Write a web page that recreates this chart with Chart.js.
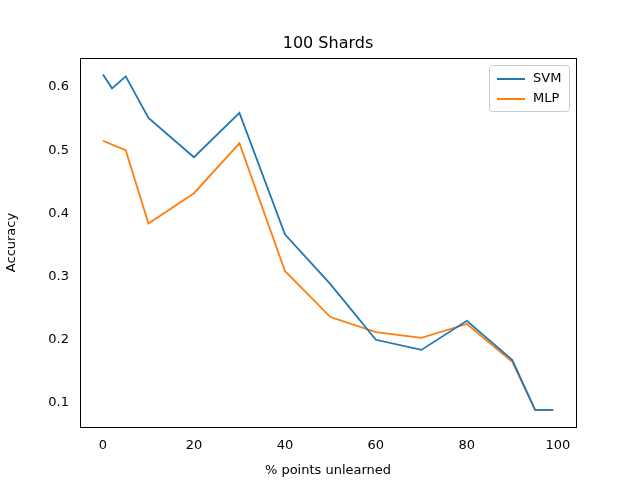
<!DOCTYPE html>
<html><head><script src="https://cdn.jsdelivr.net/npm/chart.js@4"></script>
<style>body{margin:0;background:#fff}#c{display:block}</style></head>
<body><canvas id="c" width="640" height="480"></canvas>
<script>
const xs = [0, 2, 5, 10, 20, 30, 40, 50, 60, 70, 80, 90, 95, 99];
const svm = [0.620, 0.598, 0.617, 0.551, 0.489, 0.559, 0.367, 0.288, 0.200, 0.184, 0.230, 0.168, 0.089, 0.089];
const mlp = [0.515, 0.509, 0.500, 0.384, 0.432, 0.511, 0.309, 0.236, 0.212, 0.203, 0.225, 0.165, 0.089, 0.089];
const xTicks = [0, 20, 40, 60, 80, 100];
const yTicks = [0.1, 0.2, 0.3, 0.4, 0.5, 0.6];
const font = { family: 'DejaVu Sans', size: 13 };

const overlay = {
  id: 'overlay',
  afterDraw(chart) {
    const ctx = chart.ctx, a = chart.chartArea;
    ctx.save();
    ctx.strokeStyle = '#000'; ctx.lineWidth = 1;
    ctx.strokeRect(a.left + 0.5, a.top + 0.5, a.right - a.left, a.bottom - a.top);
    ctx.fillStyle = '#000'; ctx.font = '16px DejaVu Sans';
    ctx.textAlign = 'center'; ctx.textBaseline = 'bottom';
    ctx.fillText('100 Shards', (a.left + a.right) / 2, a.top - 6);
    // legend
    const bx = a.right - 87, by = a.top + 7;
    ctx.fillStyle = 'rgba(255,255,255,0.8)'; ctx.strokeStyle = '#ccc';
    ctx.beginPath(); ctx.roundRect(bx + 0.5, by + 0.5, 80, 46, 3); ctx.fill(); ctx.stroke();
    ctx.font = '13px DejaVu Sans'; ctx.textAlign = 'left'; ctx.textBaseline = 'middle';
    chart.data.datasets.forEach((d, i) => {
      const y = by + 14 + i * 20;
      ctx.strokeStyle = d.borderColor; ctx.lineWidth = 2;
      ctx.beginPath(); ctx.moveTo(bx + 8, y); ctx.lineTo(bx + 36, y); ctx.stroke();
      ctx.fillStyle = '#000'; ctx.fillText(d.label, bx + 44, y);
    });
    ctx.restore();
  }
};

new Chart(document.getElementById('c').getContext('2d'), {
  type: 'line',
  data: { datasets: [
    { label: 'SVM', data: xs.map((x, i) => ({ x, y: svm[i] })), borderColor: '#1f77b4', borderWidth: 1.8, pointRadius: 0, tension: 0 },
    { label: 'MLP', data: xs.map((x, i) => ({ x, y: mlp[i] })), borderColor: '#ff7f0e', borderWidth: 1.8, pointRadius: 0, tension: 0 }
  ] },
  options: {
    responsive: false, animation: false,
    layout: { padding: { top: 58, right: 64, left: 0, bottom: 0 } },
    plugins: { legend: { display: false }, title: { display: false }, tooltip: { enabled: false } },
    scales: {
      x: { type: 'linear', min: -5.05, max: 104,
        afterBuildTicks: s => { s.ticks = xTicks.map(v => ({ value: v })); },
        afterFit: s => { s.height = 53; },
        grid: { display: false, drawTicks: true },
        border: { display: false },
        ticks: { color: '#000', font, maxRotation: 0 },
        title: { display: true, text: '% points unlearned', color: '#000', font, padding: 2 } },
      y: { min: 0.062, max: 0.646,
        afterBuildTicks: s => { s.ticks = yTicks.map(v => ({ value: v })); },
        afterFit: s => { s.width = 80; },
        grid: { display: false },
        border: { display: false },
        ticks: { color: '#000', font, callback: v => v.toFixed(1) },
        title: { display: true, text: 'Accuracy', color: '#000', font, padding: 4 } }
    }
  },
  plugins: [overlay]
});
</script></body></html>
